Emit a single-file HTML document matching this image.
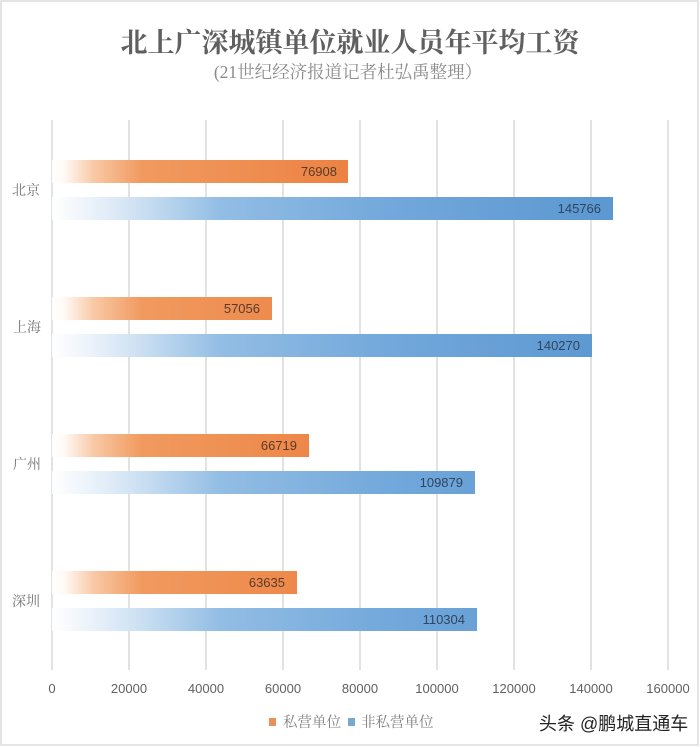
<!DOCTYPE html>
<html><head><meta charset="utf-8"><style>
html,body{margin:0;padding:0;background:#fff;}
svg{display:block;}
</style></head><body>
<svg width="700" height="747" viewBox="0 0 700 747" xmlns="http://www.w3.org/2000/svg">
<defs>
<linearGradient id="og" gradientUnits="userSpaceOnUse" x1="52" y1="0" x2="350" y2="0">
<stop offset="0" stop-color="#ffffff"/>
<stop offset="0.04" stop-color="#fffaf6"/>
<stop offset="0.14" stop-color="#f8c9a6"/>
<stop offset="0.3" stop-color="#f19a5f"/>
<stop offset="1" stop-color="#ec8243"/>
</linearGradient>
<linearGradient id="bg" gradientUnits="userSpaceOnUse" x1="52" y1="0" x2="615" y2="0">
<stop offset="0" stop-color="#ffffff"/>
<stop offset="0.03" stop-color="#f7fafd"/>
<stop offset="0.13" stop-color="#d6e6f5"/>
<stop offset="0.3" stop-color="#92bde4"/>
<stop offset="0.6" stop-color="#72a8db"/>
<stop offset="1" stop-color="#5b97d1"/>
</linearGradient>
</defs>
<rect x="0" y="0" width="700" height="747" fill="#fff"/>
<rect x="1" y="1" width="697" height="744" fill="none" stroke="#dcdcdc" stroke-width="1.5"/>

<text x="350" y="52" text-anchor="middle" font-family="'Liberation Serif','Noto Serif CJK SC',serif" font-weight="bold" font-size="27" fill="#5f5f5f">北上广深城镇单位就业人员年平均工资</text>
<text x="348" y="78" text-anchor="middle" font-family="'Liberation Serif','Noto Serif CJK SC',serif" font-size="17.5" fill="#8a8a8a">(21世纪经济报道记者杜弘禹整理）</text>

<g stroke="#d3d3d3" stroke-width="1.3">
<line x1="52" y1="120" x2="52" y2="670"/>
<line x1="129" y1="120" x2="129" y2="670"/>
<line x1="206" y1="120" x2="206" y2="670"/>
<line x1="283" y1="120" x2="283" y2="670"/>
<line x1="360" y1="120" x2="360" y2="670"/>
<line x1="437" y1="120" x2="437" y2="670"/>
<line x1="514" y1="120" x2="514" y2="670"/>
<line x1="591" y1="120" x2="591" y2="670"/>
<line x1="668" y1="120" x2="668" y2="670"/>
</g>

<g>
<rect x="52" y="160" width="296" height="23" fill="url(#og)"/>
<rect x="52" y="197" width="561" height="23" fill="url(#bg)"/>
<rect x="52" y="297" width="220" height="23" fill="url(#og)"/>
<rect x="52" y="334" width="540" height="23" fill="url(#bg)"/>
<rect x="52" y="434" width="257" height="23" fill="url(#og)"/>
<rect x="52" y="471" width="423" height="23" fill="url(#bg)"/>
<rect x="52" y="571" width="245" height="23" fill="url(#og)"/>
<rect x="52" y="608" width="425" height="23" fill="url(#bg)"/>
</g>

<g font-family="'Liberation Sans',sans-serif" font-size="13" text-anchor="end">
<text x="337" y="176" fill="#5a3a28">76908</text>
<text x="601" y="213" fill="#2f4560">145766</text>
<text x="260" y="313" fill="#5a3a28">57056</text>
<text x="580" y="350" fill="#2f4560">140270</text>
<text x="297" y="450" fill="#5a3a28">66719</text>
<text x="463" y="487" fill="#2f4560">109879</text>
<text x="285" y="587" fill="#5a3a28">63635</text>
<text x="465" y="624" fill="#2f4560">110304</text>
</g>

<g font-family="'Liberation Serif','Noto Serif CJK SC',serif" font-size="14" fill="#777">
<text x="12" y="195">北京</text>
<text x="13" y="332">上海</text>
<text x="13" y="469">广州</text>
<text x="12" y="606">深圳</text>
</g>

<g font-family="'Liberation Sans',sans-serif" font-size="13" fill="#606060" text-anchor="middle">
<text x="52" y="693">0</text>
<text x="129" y="693">20000</text>
<text x="206" y="693">40000</text>
<text x="283" y="693">60000</text>
<text x="360" y="693">80000</text>
<text x="437" y="693">100000</text>
<text x="514" y="693">120000</text>
<text x="591" y="693">140000</text>
<text x="668" y="693">160000</text>
</g>

<rect x="269" y="718" width="7" height="8" fill="#e8915a"/>
<text x="283" y="727" font-family="'Liberation Serif','Noto Serif CJK SC',serif" font-size="14.5" fill="#808080">私营单位</text>
<rect x="348" y="718" width="7" height="8" fill="#7aa9cf"/>
<text x="361" y="727" font-family="'Liberation Serif','Noto Serif CJK SC',serif" font-size="14.5" fill="#808080">非私营单位</text>

<text x="539" y="730" font-family="'Liberation Sans','Noto Sans CJK SC',sans-serif" font-size="18" fill="#222">头条 @鹏城直通车</text>
</svg>
</body></html>
